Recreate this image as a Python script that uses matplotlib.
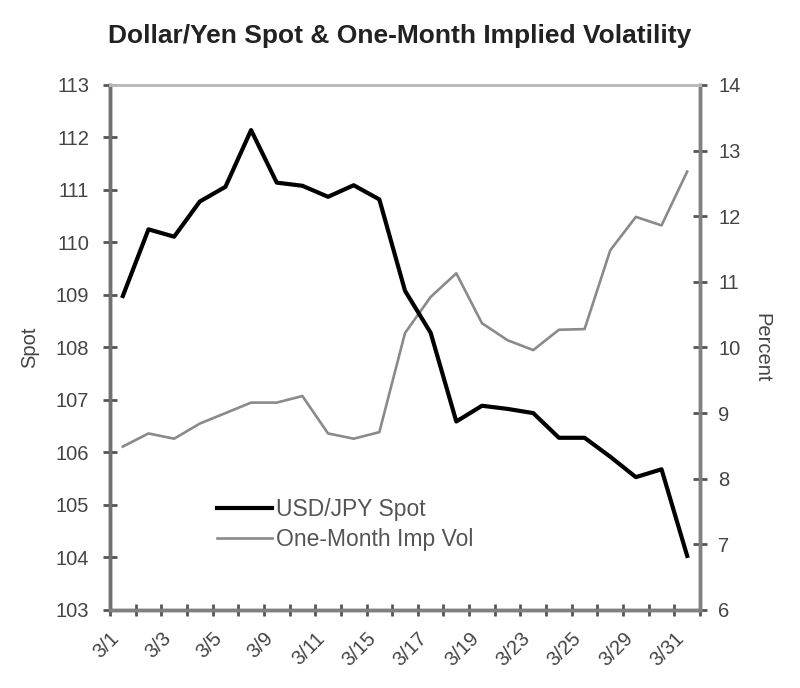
import matplotlib
matplotlib.use("Agg")
import matplotlib.pyplot as plt
import matplotlib.transforms as mtransforms
import numpy as np

plt.rcParams['font.family'] = ['Liberation Sans', 'DejaVu Sans']

# trading days in March
dates = ['3/1', '3/2', '3/3', '3/4', '3/5', '3/8', '3/9', '3/10', '3/11', '3/12',
         '3/15', '3/16', '3/17', '3/18', '3/19', '3/22', '3/23', '3/24', '3/25',
         '3/26', '3/29', '3/30', '3/31']
spot = [108.98, 110.25, 110.11, 110.78, 111.06, 112.14, 111.14, 111.08, 110.87,
        111.09, 110.82, 109.08, 108.28, 106.59, 106.89, 106.83, 106.75, 106.28,
        106.28, 105.92, 105.53, 105.68, 104.03]
vol = [8.49, 8.69, 8.61, 8.84, 9.0, 9.16, 9.16, 9.26, 8.69, 8.61, 8.71, 10.22,
       10.77, 11.13, 10.37, 10.11, 9.96, 10.27, 10.28, 11.48, 11.99, 11.86, 12.68]

x = np.arange(len(dates))
fs = 14.5

fig = plt.figure(figsize=(8, 6.88), dpi=100)
ax = fig.add_axes([0.1375, 0.1134, 0.7375, 0.7631])
ax2 = ax.twinx()

ln1, = ax.plot(x, spot, color='black', linewidth=3.0, label='USD/JPY Spot', zorder=3)
ln2, = ax2.plot(x, vol, color='#8a8a8a', linewidth=1.9, label='One-Month Imp Vol')
ax.set_zorder(ax2.get_zorder() + 1)
ax.patch.set_visible(False)

ax.set_xlim(-0.5, len(dates) - 0.5)
ax.set_ylim(103, 113)
ax.set_yticks(range(103, 114))
ax2.set_ylim(6, 14)
ax2.set_yticks(range(6, 15))

# ticks on category boundaries, labels on every other category
ax.set_xticks(np.arange(-0.5, len(dates), 1.0))
ax.set_xticklabels([])
ax.set_xticks(x[::2], minor=True)
ax.set_xticklabels(dates[::2], minor=True, rotation=45, ha='right',
                   rotation_mode='anchor', fontsize=fs, color='#444444')
ax.tick_params(axis='x', which='minor', length=0, pad=12)
ax.tick_params(axis='x', which='major', direction='inout', length=9,
               width=2, color='#555555')
shift = mtransforms.ScaledTranslation(-0.13, -0.02, fig.dpi_scale_trans)
for lab in ax.get_xticklabels(minor=True):
    lab.set_transform(lab.get_transform() + shift)

ax.tick_params(axis='y', direction='inout', length=10, width=2, color='#555555',
               labelsize=fs, labelcolor='#444444', pad=10)
ax2.tick_params(axis='y', direction='inout', length=10, width=2, color='#555555',
                labelsize=fs, labelcolor='#444444', pad=8)

for a in (ax, ax2):
    a.spines['top'].set_color('#bbbbbb')
    a.spines['top'].set_linewidth(2)
    a.spines['left'].set_color('#707070')
    a.spines['left'].set_linewidth(2.5)
    a.spines['right'].set_color('#808080')
    a.spines['right'].set_linewidth(2.5)
    a.spines['bottom'].set_color('#808080')
    a.spines['bottom'].set_linewidth(2.5)

ax.set_ylabel('Spot', fontsize=fs, color='#444444', labelpad=12)
ax2.set_ylabel('Percent', fontsize=fs, color='#444444', rotation=-90, labelpad=22)

ax.legend(handles=[ln1, ln2], loc='upper left', bbox_to_anchor=(0.181, 0.213),
          frameon=False, fontsize=16.5, handlelength=2.4, handletextpad=0.2,
          labelspacing=0.3, borderpad=0, borderaxespad=0, labelcolor='#555555')

fig.text(0.5, 0.948, 'Dollar/Yen Spot & One-Month Implied Volatility',
         ha='center', va='center', fontsize=19, fontweight='bold', color='#222222')

fig.savefig('out.png', dpi=100)
